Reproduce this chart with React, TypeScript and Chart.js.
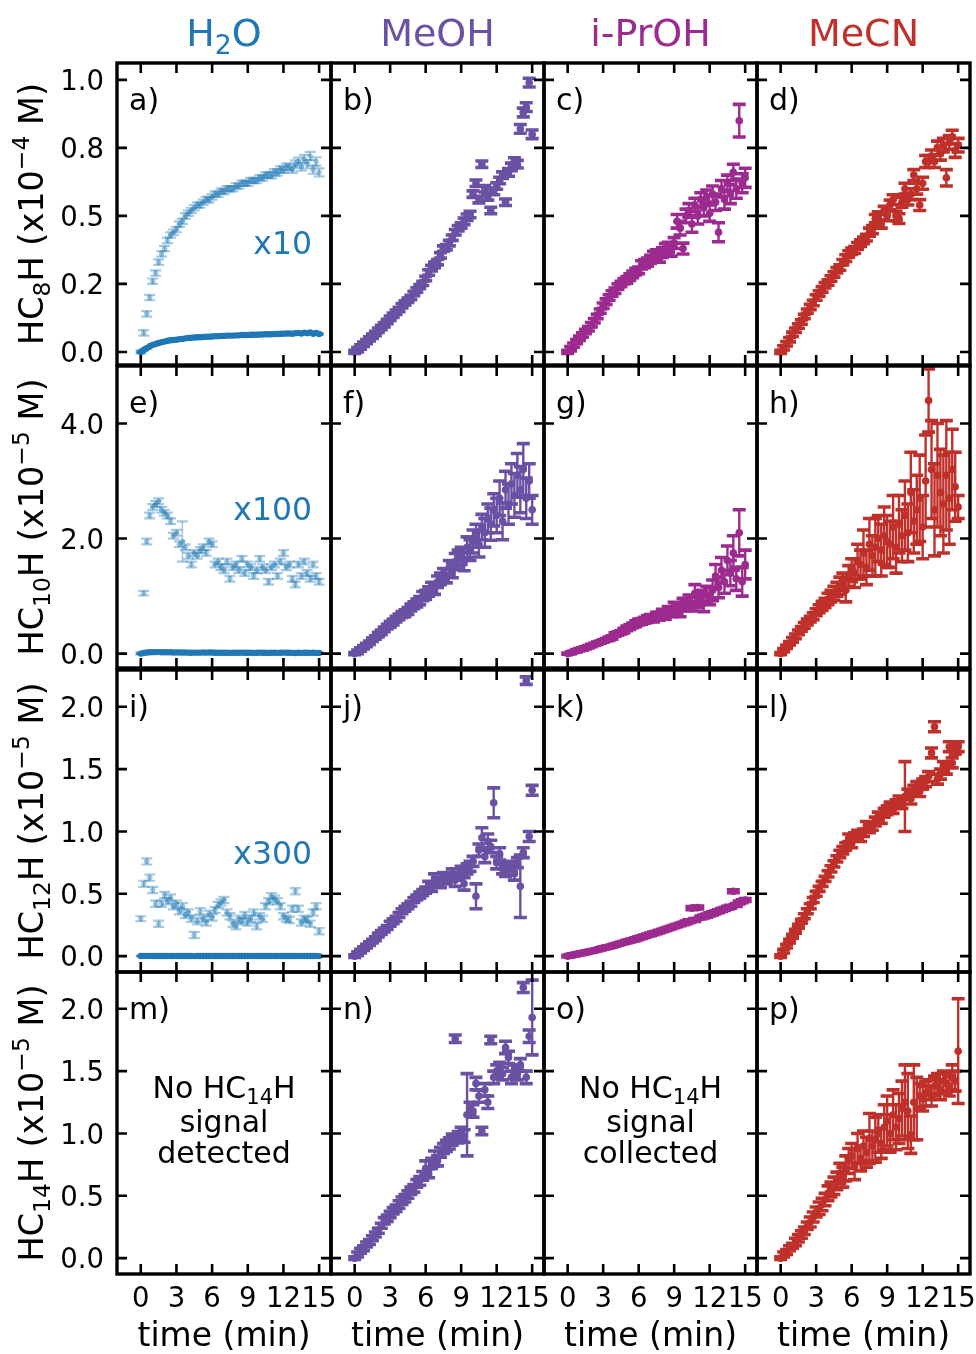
import { useEffect, useRef } from "react";
import { Chart, registerables } from "chart.js";

Chart.register(...registerables);

/* ---------------- data ---------------- */
const TIME = [
  0, 0.25, 0.5, 0.75, 1, 1.25, 1.5, 1.75, 2, 2.25,
  2.5, 2.75, 3, 3.25, 3.5, 3.75, 4, 4.25, 4.5, 4.75,
  5, 5.25, 5.5, 5.75, 6, 6.25, 6.5, 6.75, 7, 7.25,
  7.5, 7.75, 8, 8.25, 8.5, 8.75, 9, 9.25, 9.5, 9.75,
  10, 10.25, 10.5, 10.75, 11, 11.25, 11.5, 11.75, 12, 12.25,
  12.5, 12.75, 13, 13.25, 13.5, 13.75, 14, 14.25, 14.5, 14.75,
  15,
];

const SOLVENTS = ["H_{2}O", "MeOH", "i-PrOH", "MeCN"];
const Y_TITLES = [
  "HC_{8}H (x10^{−4} M)",
  "HC_{10}H (x10^{−5} M)",
  "HC_{12}H (x10^{−5} M)",
  "HC_{14}H (x10^{−5} M)",
];
const X_TITLE = "time (min)";
const X_TICKS = [0, 3, 6, 9, 12, 15];
const X_TICK_LABELS = ["0", "3", "6", "9", "12", "15"];
const Y_TICKS = [
  [0, 0.25, 0.5, 0.75, 1.0],
  [0, 2, 4],
  [0, 0.5, 1.0, 1.5, 2.0],
  [0, 0.5, 1.0, 1.5, 2.0],
];
const Y_TICK_LABELS = [
  ["0.0", "0.2", "0.5", "0.8", "1.0"],
  ["0.0", "2.0", "4.0"],
  ["0.0", "0.5", "1.0", "1.5", "2.0"],
  ["0.0", "0.5", "1.0", "1.5", "2.0"],
];
const PANEL_LETTERS = ["a)", "b)", "c)", "d)", "e)", "f)", "g)", "h)", "i)", "j)", "k)", "l)", "m)", "n)", "o)", "p)"];
const H2O_FACTORS = [10, 100, 300];
const H2O_NOTES = ["x10", "x100", "x300"];
const NO_SIGNAL_WATER = ["No HC_{14}H", "signal", "detected"];
const NO_SIGNAL_IPROH = ["No HC_{14}H", "signal", "collected"];

// H2O (values shown multiplied by the factor)
const H2O_HC8H_X10 = [
  0.00, 0.07, 0.14, 0.20, 0.26, 0.29, 0.33, 0.36, 0.38, 0.41,
  0.43, 0.44, 0.45, 0.47, 0.48, 0.50, 0.51, 0.52, 0.53, 0.54,
  0.54, 0.55, 0.56, 0.56, 0.57, 0.58, 0.58, 0.59, 0.59, 0.60,
  0.60, 0.60, 0.61, 0.61, 0.62, 0.62, 0.62, 0.63, 0.63, 0.63,
  0.64, 0.64, 0.65, 0.65, 0.65, 0.66, 0.66, 0.67, 0.67, 0.68,
  0.68, 0.67, 0.69, 0.70, 0.68, 0.71, 0.69, 0.72, 0.67, 0.70,
  0.66,
];
const H2O_HC8H_X10_ERR = [
  0.006, 0.01, 0.01, 0.01, 0.01, 0.01, 0.01, 0.01, 0.01, 0.01,
  0.01, 0.01, 0.01, 0.01, 0.01, 0.01, 0.01, 0.01, 0.01, 0.01,
  0.01, 0.01, 0.01, 0.01, 0.01, 0.01, 0.01, 0.01, 0.01, 0.01,
  0.01, 0.01, 0.01, 0.01, 0.01, 0.01, 0.01, 0.01, 0.01, 0.01,
  0.01, 0.01, 0.01, 0.01, 0.012, 0.012, 0.012, 0.012, 0.012, 0.012,
  0.012, 0.012, 0.014, 0.014, 0.014, 0.014, 0.015, 0.015, 0.015, 0.015,
  0.015,
];
const H2O_HC10H_X100 = [
  0.00, 1.05, 1.95, 2.40, 2.55, 2.60, 2.65, 2.50, 2.45, 2.40,
  2.30, 2.05, 2.10, 1.90, 1.95, 1.85, 1.70, 1.55, 1.75, 1.70,
  1.80, 1.85, 1.75, 1.95, 1.90, 1.55, 1.60, 1.50, 1.45, 1.60,
  1.30, 1.50, 1.55, 1.45, 1.65, 1.40, 1.55, 1.50, 1.35, 1.45,
  1.65, 1.50, 1.45, 1.25, 1.50, 1.55, 1.35, 1.60, 1.75, 1.50,
  1.55, 1.30, 1.20, 1.55, 1.35, 1.60, 1.40, 1.30, 1.55, 1.35,
  1.25,
];
const H2O_HC10H_X100_ERR = [
  0.02, 0.04, 0.05, 0.05, 0.05, 0.05, 0.05, 0.05, 0.05, 0.05,
  0.05, 0.05, 0.05, 0.05, 0.35, 0.05, 0.05, 0.05, 0.05, 0.05,
  0.05, 0.05, 0.05, 0.05, 0.05, 0.05, 0.05, 0.05, 0.05, 0.05,
  0.05, 0.05, 0.05, 0.05, 0.05, 0.05, 0.05, 0.05, 0.05, 0.05,
  0.05, 0.05, 0.05, 0.05, 0.05, 0.05, 0.05, 0.05, 0.05, 0.05,
  0.05, 0.05, 0.05, 0.05, 0.05, 0.05, 0.05, 0.05, 0.05, 0.05,
  0.05,
];
const H2O_HC12H_X300 = [
  0.30, 0.58, 0.76, 0.63, 0.53, 0.42, 0.26, 0.42, 0.49, 0.44,
  0.47, 0.40, 0.42, 0.36, 0.40, 0.33, 0.35, 0.30, 0.17, 0.28,
  0.36, 0.30, 0.27, 0.34, 0.31, 0.37, 0.41, 0.43, 0.45, 0.35,
  0.32, 0.26, 0.24, 0.30, 0.28, 0.33, 0.27, 0.30, 0.35, 0.24,
  0.32, 0.30, 0.40, 0.44, 0.48, 0.46, 0.44, 0.40, 0.32, 0.30,
  0.29, 0.38, 0.52, 0.38, 0.27, 0.30, 0.29, 0.26, 0.35, 0.40,
  0.20,
];
const H2O_HC12H_X300_ERR = [
  0.02, 0.025, 0.025, 0.025, 0.025, 0.025, 0.025, 0.025, 0.025, 0.025,
  0.025, 0.025, 0.025, 0.025, 0.025, 0.025, 0.025, 0.025, 0.025, 0.025,
  0.025, 0.025, 0.025, 0.025, 0.025, 0.025, 0.025, 0.025, 0.025, 0.025,
  0.025, 0.025, 0.025, 0.025, 0.025, 0.025, 0.025, 0.025, 0.025, 0.025,
  0.025, 0.025, 0.025, 0.025, 0.025, 0.025, 0.025, 0.025, 0.025, 0.025,
  0.025, 0.025, 0.025, 0.025, 0.025, 0.025, 0.025, 0.025, 0.025, 0.025,
  0.025,
];

// MeOH
const MEOH_HC8H = [
  0.000, 0.008, 0.018, 0.028, 0.038, 0.048, 0.058, 0.068, 0.080, 0.090,
  0.100, 0.112, 0.124, 0.135, 0.146, 0.156, 0.170, 0.180, 0.190, 0.200,
  0.215, 0.228, 0.240, 0.252, 0.270, 0.292, 0.308, 0.320, 0.330, 0.355,
  0.380, 0.385, 0.400, 0.420, 0.440, 0.455, 0.465, 0.480, 0.495, 0.505,
  0.580, 0.620, 0.560, 0.690, 0.600, 0.570, 0.520, 0.590, 0.610, 0.630,
  0.650, 0.550, 0.660, 0.680, 0.700, 0.690, 0.820, 0.880, 0.900, 0.990,
  0.800,
];
const MEOH_HC8H_ERR = [
  0.006, 0.008, 0.008, 0.008, 0.008, 0.008, 0.008, 0.008, 0.008, 0.008,
  0.008, 0.008, 0.008, 0.008, 0.008, 0.008, 0.008, 0.008, 0.008, 0.008,
  0.008, 0.008, 0.008, 0.008, 0.008, 0.010, 0.010, 0.010, 0.010, 0.010,
  0.010, 0.010, 0.010, 0.010, 0.010, 0.010, 0.010, 0.012, 0.012, 0.012,
  0.012, 0.012, 0.012, 0.012, 0.012, 0.012, 0.012, 0.012, 0.012, 0.012,
  0.012, 0.012, 0.014, 0.014, 0.014, 0.014, 0.016, 0.016, 0.016, 0.016,
  0.016,
];
const MEOH_HC10H = [
  0.00, 0.03, 0.07, 0.11, 0.15, 0.19, 0.24, 0.28, 0.33, 0.37,
  0.42, 0.47, 0.51, 0.55, 0.60, 0.64, 0.68, 0.70, 0.74, 0.80,
  0.84, 0.88, 0.92, 1.00, 1.02, 1.08, 1.15, 1.12, 1.25, 1.30,
  1.38, 1.35, 1.50, 1.45, 1.60, 1.65, 1.70, 1.60, 1.85, 1.80,
  1.95, 2.05, 1.90, 2.20, 2.10, 2.35, 2.25, 2.50, 2.40, 2.70,
  2.30, 2.85, 2.60, 2.95, 2.75, 3.10, 2.85, 3.20, 2.70, 3.00,
  2.50,
];
const MEOH_HC10H_ERR = [
  0.02, 0.03, 0.03, 0.03, 0.03, 0.03, 0.03, 0.03, 0.04, 0.04,
  0.04, 0.04, 0.05, 0.05, 0.05, 0.05, 0.05, 0.06, 0.06, 0.06,
  0.06, 0.07, 0.07, 0.08, 0.08, 0.08, 0.09, 0.09, 0.10, 0.10,
  0.10, 0.12, 0.12, 0.13, 0.14, 0.15, 0.15, 0.16, 0.18, 0.18,
  0.20, 0.20, 0.22, 0.22, 0.25, 0.25, 0.28, 0.28, 0.30, 0.30,
  0.32, 0.32, 0.35, 0.35, 0.38, 0.38, 0.40, 0.45, 0.35, 0.30,
  0.25,
];
const MEOH_HC12H = [
  0.00, 0.02, 0.04, 0.06, 0.08, 0.10, 0.12, 0.14, 0.17, 0.19,
  0.21, 0.23, 0.26, 0.28, 0.30, 0.33, 0.36, 0.38, 0.40, 0.42,
  0.45, 0.47, 0.49, 0.51, 0.53, 0.57, 0.55, 0.62, 0.60, 0.58,
  0.64, 0.62, 0.63, 0.66, 0.61, 0.64, 0.68, 0.58, 0.70, 0.72,
  0.76, 0.48, 0.85, 0.95, 0.80, 0.92, 0.88, 1.23, 0.75, 0.82,
  0.70, 0.68, 0.70, 0.72, 0.66, 0.75, 0.56, 0.83, 2.21, 0.96,
  1.33,
];
const MEOH_HC12H_ERR = [
  0.01, 0.015, 0.015, 0.015, 0.015, 0.015, 0.015, 0.015, 0.015, 0.015,
  0.015, 0.015, 0.02, 0.02, 0.02, 0.02, 0.02, 0.02, 0.02, 0.02,
  0.02, 0.02, 0.025, 0.025, 0.025, 0.03, 0.03, 0.04, 0.03, 0.03,
  0.03, 0.04, 0.03, 0.04, 0.05, 0.03, 0.04, 0.05, 0.04, 0.04,
  0.04, 0.10, 0.05, 0.08, 0.05, 0.06, 0.05, 0.12, 0.05, 0.05,
  0.04, 0.04, 0.05, 0.04, 0.05, 0.04, 0.25, 0.04, 0.03, 0.04,
  0.04,
];
const MEOH_HC14H = [
  0.00, 0.03, 0.06, 0.08, 0.11, 0.13, 0.16, 0.19, 0.22, 0.26,
  0.30, 0.32, 0.35, 0.38, 0.40, 0.43, 0.46, 0.48, 0.51, 0.54,
  0.56, 0.60, 0.62, 0.66, 0.72, 0.68, 0.76, 0.80, 0.78, 0.85,
  0.88, 0.90, 0.92, 0.95, 1.76, 0.97, 1.00, 0.98, 1.15, 1.20,
  1.18, 1.40, 1.30, 1.02, 1.35, 1.25, 1.75, 1.45, 1.50, 1.52,
  1.48, 1.69, 1.61, 1.45, 1.50, 1.48, 1.55, 2.17, 1.45, 1.78,
  1.93,
];
const MEOH_HC14H_ERR = [
  0.01, 0.02, 0.02, 0.02, 0.02, 0.02, 0.02, 0.02, 0.02, 0.02,
  0.025, 0.025, 0.025, 0.025, 0.025, 0.03, 0.03, 0.03, 0.03, 0.03,
  0.03, 0.03, 0.035, 0.035, 0.06, 0.035, 0.04, 0.06, 0.04, 0.04,
  0.04, 0.045, 0.045, 0.045, 0.03, 0.045, 0.05, 0.05, 0.33, 0.05,
  0.05, 0.05, 0.05, 0.03, 0.05, 0.05, 0.03, 0.05, 0.05, 0.05,
  0.05, 0.05, 0.05, 0.05, 0.05, 0.05, 0.05, 0.04, 0.05, 0.05,
  0.30,
];

// i-PrOH
const IPROH_HC8H = [
  0.000, 0.012, 0.025, 0.038, 0.050, 0.062, 0.075, 0.085, 0.100, 0.115,
  0.130, 0.150, 0.170, 0.185, 0.200, 0.215, 0.225, 0.240, 0.250, 0.260,
  0.265, 0.275, 0.285, 0.295, 0.300, 0.320, 0.325, 0.330, 0.340, 0.355,
  0.360, 0.345, 0.365, 0.380, 0.385, 0.370, 0.400, 0.480, 0.455, 0.380,
  0.500, 0.520, 0.470, 0.540, 0.500, 0.560, 0.530, 0.570, 0.510, 0.580,
  0.550, 0.440, 0.600, 0.560, 0.620, 0.580, 0.660, 0.600, 0.850, 0.620,
  0.640,
];
const IPROH_HC8H_ERR = [
  0.006, 0.008, 0.008, 0.008, 0.008, 0.008, 0.008, 0.008, 0.008, 0.008,
  0.008, 0.008, 0.010, 0.010, 0.010, 0.010, 0.010, 0.010, 0.010, 0.010,
  0.012, 0.012, 0.012, 0.012, 0.012, 0.015, 0.015, 0.015, 0.015, 0.015,
  0.015, 0.015, 0.018, 0.018, 0.018, 0.018, 0.020, 0.025, 0.025, 0.020,
  0.025, 0.025, 0.030, 0.025, 0.030, 0.025, 0.030, 0.025, 0.030, 0.030,
  0.030, 0.035, 0.030, 0.035, 0.030, 0.035, 0.030, 0.035, 0.060, 0.035,
  0.035,
];
const IPROH_HC10H = [
  0.00, 0.01, 0.03, 0.05, 0.07, 0.08, 0.10, 0.12, 0.14, 0.16,
  0.18, 0.20, 0.22, 0.24, 0.26, 0.28, 0.33, 0.35, 0.37, 0.40,
  0.44, 0.46, 0.49, 0.52, 0.55, 0.56, 0.58, 0.60, 0.62, 0.61,
  0.66, 0.65, 0.70, 0.68, 0.74, 0.72, 0.80, 0.78, 0.74, 0.86,
  0.84, 0.90, 0.86, 1.05, 0.92, 0.98, 0.88, 1.02, 1.00, 1.10,
  1.35, 1.15, 1.45, 1.25, 1.62, 1.40, 1.75, 1.30, 2.10, 1.25,
  1.55,
];
const IPROH_HC10H_ERR = [
  0.01, 0.01, 0.01, 0.02, 0.02, 0.02, 0.02, 0.02, 0.02, 0.02,
  0.02, 0.02, 0.02, 0.02, 0.03, 0.03, 0.03, 0.03, 0.03, 0.04,
  0.04, 0.04, 0.04, 0.05, 0.05, 0.05, 0.05, 0.06, 0.06, 0.06,
  0.06, 0.07, 0.07, 0.08, 0.08, 0.08, 0.09, 0.09, 0.10, 0.10,
  0.10, 0.12, 0.12, 0.15, 0.12, 0.12, 0.15, 0.15, 0.15, 0.18,
  0.20, 0.18, 0.22, 0.20, 0.25, 0.22, 0.30, 0.20, 0.40, 0.25,
  0.25,
];
const IPROH_HC12H = [
  0.000, 0.005, 0.010, 0.015, 0.020, 0.025, 0.030, 0.035, 0.040, 0.046,
  0.052, 0.058, 0.065, 0.070, 0.076, 0.082, 0.090, 0.096, 0.103, 0.110,
  0.117, 0.124, 0.130, 0.137, 0.145, 0.152, 0.160, 0.168, 0.175, 0.183,
  0.190, 0.198, 0.206, 0.214, 0.222, 0.230, 0.238, 0.246, 0.254, 0.262,
  0.270, 0.280, 0.385, 0.290, 0.390, 0.310, 0.318, 0.325, 0.335, 0.343,
  0.352, 0.360, 0.370, 0.378, 0.388, 0.395, 0.520, 0.410, 0.430, 0.440,
  0.450,
];
const IPROH_HC12H_ERR = [
  0.006, 0.008, 0.008, 0.008, 0.008, 0.008, 0.008, 0.008, 0.008, 0.008,
  0.008, 0.008, 0.008, 0.008, 0.008, 0.008, 0.008, 0.008, 0.008, 0.008,
  0.010, 0.010, 0.010, 0.010, 0.010, 0.010, 0.010, 0.010, 0.010, 0.010,
  0.010, 0.010, 0.010, 0.010, 0.010, 0.010, 0.010, 0.010, 0.010, 0.010,
  0.012, 0.012, 0.012, 0.012, 0.012, 0.012, 0.012, 0.012, 0.012, 0.012,
  0.012, 0.012, 0.012, 0.012, 0.012, 0.012, 0.012, 0.012, 0.012, 0.012,
  0.012,
];

// MeCN
const MECN_HC8H = [
  0.000, 0.015, 0.030, 0.045, 0.065, 0.080, 0.095, 0.110, 0.130, 0.150,
  0.165, 0.180, 0.200, 0.215, 0.230, 0.245, 0.255, 0.270, 0.285, 0.300,
  0.310, 0.330, 0.345, 0.360, 0.370, 0.375, 0.390, 0.400, 0.410, 0.420,
  0.440, 0.450, 0.490, 0.500, 0.470, 0.520, 0.500, 0.540, 0.560, 0.500,
  0.490, 0.550, 0.600, 0.560, 0.580, 0.650, 0.600, 0.540, 0.620, 0.700,
  0.700, 0.720, 0.700, 0.750, 0.730, 0.760, 0.640, 0.770, 0.790, 0.740,
  0.760,
];
const MECN_HC8H_ERR = [
  0.006, 0.008, 0.008, 0.008, 0.008, 0.008, 0.008, 0.008, 0.008, 0.008,
  0.010, 0.010, 0.010, 0.010, 0.010, 0.010, 0.010, 0.010, 0.010, 0.010,
  0.010, 0.010, 0.012, 0.012, 0.012, 0.012, 0.012, 0.012, 0.012, 0.012,
  0.015, 0.015, 0.015, 0.015, 0.015, 0.015, 0.018, 0.018, 0.018, 0.018,
  0.018, 0.018, 0.020, 0.020, 0.020, 0.020, 0.020, 0.020, 0.022, 0.022,
  0.022, 0.022, 0.022, 0.025, 0.025, 0.025, 0.030, 0.025, 0.025, 0.025,
  0.025,
];
const MECN_HC10H = [
  0.00, 0.06, 0.12, 0.18, 0.24, 0.30, 0.37, 0.43, 0.49, 0.55,
  0.60, 0.65, 0.72, 0.78, 0.83, 0.88, 0.95, 1.00, 1.05, 1.12,
  1.18, 1.25, 1.10, 1.35, 1.45, 1.40, 1.60, 1.55, 1.75, 1.50,
  1.90, 1.70, 1.85, 2.00, 1.80, 2.05, 1.95, 1.90, 2.20, 1.85,
  2.25, 2.05, 2.40, 2.10, 2.80, 2.30, 2.50, 2.70, 2.20, 3.00,
  4.40, 3.20, 2.50, 3.10, 2.80, 2.60, 3.10, 2.70, 3.20, 2.90,
  2.55,
];
const MECN_HC10H_ERR = [
  0.02, 0.03, 0.03, 0.03, 0.04, 0.04, 0.04, 0.04, 0.05, 0.05,
  0.05, 0.06, 0.06, 0.07, 0.08, 0.08, 0.10, 0.10, 0.12, 0.12,
  0.15, 0.15, 0.20, 0.18, 0.20, 0.25, 0.30, 0.25, 0.40, 0.30,
  0.45, 0.35, 0.50, 0.40, 0.45, 0.50, 0.45, 0.40, 0.55, 0.45,
  0.50, 0.45, 0.60, 0.50, 0.70, 0.55, 0.60, 0.75, 0.55, 0.80,
  0.55, 0.85, 0.80, 0.90, 0.75, 0.85, 0.95, 0.80, 0.70, 0.60,
  0.20,
];
const MECN_HC12H = [
  0.00, 0.04, 0.08, 0.12, 0.16, 0.20, 0.24, 0.28, 0.32, 0.36,
  0.40, 0.45, 0.50, 0.54, 0.58, 0.62, 0.66, 0.70, 0.74, 0.78,
  0.82, 0.85, 0.88, 0.95, 0.90, 0.96, 0.98, 0.95, 0.99, 1.05,
  1.02, 1.04, 1.08, 1.12, 1.10, 1.15, 1.17, 1.20, 1.18, 1.22,
  1.25, 1.22, 1.28, 1.30, 1.26, 1.33, 1.36, 1.32, 1.38, 1.40,
  1.44, 1.63, 1.84, 1.42, 1.46, 1.52, 1.50, 1.68, 1.55, 1.66,
  1.68,
];
const MECN_HC12H_ERR = [
  0.01, 0.015, 0.015, 0.015, 0.015, 0.015, 0.015, 0.015, 0.02, 0.02,
  0.02, 0.02, 0.02, 0.02, 0.02, 0.02, 0.025, 0.025, 0.025, 0.025,
  0.03, 0.03, 0.03, 0.03, 0.03, 0.03, 0.03, 0.03, 0.03, 0.03,
  0.03, 0.03, 0.035, 0.035, 0.035, 0.035, 0.035, 0.035, 0.035, 0.035,
  0.035, 0.035, 0.28, 0.04, 0.04, 0.04, 0.04, 0.04, 0.04, 0.04,
  0.04, 0.04, 0.04, 0.04, 0.04, 0.04, 0.04, 0.04, 0.04, 0.04,
  0.04,
];
const MECN_HC14H = [
  0.00, 0.03, 0.05, 0.08, 0.10, 0.13, 0.16, 0.19, 0.22, 0.26,
  0.29, 0.33, 0.37, 0.40, 0.43, 0.47, 0.52, 0.55, 0.58, 0.62,
  0.68, 0.65, 0.72, 0.78, 0.82, 0.75, 0.88, 0.80, 0.90, 0.85,
  0.96, 0.90, 0.95, 1.00, 0.92, 1.05, 1.10, 1.00, 1.15, 1.05,
  1.12, 1.20, 1.25, 1.18, 0.99, 1.25, 1.20, 1.30, 1.28, 1.32,
  1.35, 1.30, 1.38, 1.40, 1.35, 1.42, 1.40, 1.38, 1.45, 1.42,
  1.66,
];
const MECN_HC14H_ERR = [
  0.01, 0.02, 0.02, 0.02, 0.02, 0.03, 0.03, 0.03, 0.03, 0.03,
  0.04, 0.04, 0.04, 0.05, 0.05, 0.05, 0.06, 0.06, 0.07, 0.07,
  0.08, 0.08, 0.10, 0.10, 0.10, 0.12, 0.12, 0.10, 0.12, 0.12,
  0.20, 0.12, 0.18, 0.15, 0.12, 0.18, 0.20, 0.15, 0.20, 0.18,
  0.20, 0.22, 0.30, 0.30, 0.15, 0.30, 0.25, 0.10, 0.10, 0.10,
  0.08, 0.08, 0.08, 0.08, 0.08, 0.08, 0.08, 0.08, 0.10, 0.08,
  0.42,
];

/* ---------------- layout & style ---------------- */
const W = 976;
const H = 1354;
const COL_L = [117, 331, 544, 757];
const COL_R = [331, 544, 757, 970];
const ROW_T = [63, 366, 670, 972];
const ROW_B = [365, 668, 972, 1274];
const X_MIN = -2;
const X_MAX = 16;
const Y_MIN = [-0.048, -0.25, -0.127, -0.127];
const Y_MAX = [1.062, 5.0, 2.295, 2.295];
const SOLVENT_COLORS = ["#1f77b4", "#6a51a3", "#9c2a8f", "#c0302a"];
const H2O_LIGHT = "rgba(31,119,180,0.4)";
const FONT = '"DejaVu Sans", sans-serif';

type Style = { radius: number; errW: number; capHalf: number; capW: number };
const STYLE_SOLID: Style = { radius: 3.8, errW: 2.4, capHalf: 6.5, capW: 3.6 };
const STYLE_H2O: Style = { radius: 3.2, errW: 1.8, capHalf: 4.5, capW: 2.6 };
const STYLE_LIGHT: Style = { radius: 2.8, errW: 1.5, capHalf: 5.5, capW: 2.2 };

type SeriesSpec = { values: number[]; errors: number[]; div: number; color: string; style: Style };
type PanelSpec = { id: number; row: number; col: number; series: SeriesSpec[]; note?: string; noSignal?: string[] };

const H2O_GRID = [
  [H2O_HC8H_X10, H2O_HC8H_X10_ERR],
  [H2O_HC10H_X100, H2O_HC10H_X100_ERR],
  [H2O_HC12H_X300, H2O_HC12H_X300_ERR],
];
const DATA_GRID: (number[][] | null)[][] = [
  [null, [MEOH_HC8H, MEOH_HC8H_ERR], [IPROH_HC8H, IPROH_HC8H_ERR], [MECN_HC8H, MECN_HC8H_ERR]],
  [null, [MEOH_HC10H, MEOH_HC10H_ERR], [IPROH_HC10H, IPROH_HC10H_ERR], [MECN_HC10H, MECN_HC10H_ERR]],
  [null, [MEOH_HC12H, MEOH_HC12H_ERR], [IPROH_HC12H, IPROH_HC12H_ERR], [MECN_HC12H, MECN_HC12H_ERR]],
  [null, [MEOH_HC14H, MEOH_HC14H_ERR], null, [MECN_HC14H, MECN_HC14H_ERR]],
];

function buildPanels(): PanelSpec[] {
  const out: PanelSpec[] = [];
  for (let r = 0; r < 4; r++) {
    for (let c = 0; c < 4; c++) {
      const p: PanelSpec = { id: r * 4 + c, row: r, col: c, series: [] };
      if (c === 0 && r < 3) {
        const [vals, errs] = H2O_GRID[r];
        p.series.push({ values: vals, errors: errs, div: 1, color: H2O_LIGHT, style: STYLE_LIGHT });
        p.series.push({ values: vals, errors: errs, div: H2O_FACTORS[r], color: SOLVENT_COLORS[0], style: STYLE_H2O });
        p.note = H2O_NOTES[r];
      } else if (r === 3 && c === 0) {
        p.noSignal = NO_SIGNAL_WATER;
      } else if (r === 3 && c === 2) {
        p.noSignal = NO_SIGNAL_IPROH;
      } else {
        const d = DATA_GRID[r][c]!;
        p.series.push({ values: d[0], errors: d[1], div: 1, color: SOLVENT_COLORS[c], style: STYLE_SOLID });
      }
      out.push(p);
    }
  }
  return out;
}
const PANELS = buildPanels();

/* ---------------- text helpers ---------------- */
function parseRich(s: string): [string, number][] {
  const out: [string, number][] = [];
  const re = /_\{([^}]*)\}|\^\{([^}]*)\}|([^_^]+)/g;
  let m: RegExpExecArray | null;
  while ((m = re.exec(s))) {
    if (m[1] !== undefined) out.push([m[1], 1]);
    else if (m[2] !== undefined) out.push([m[2], 2]);
    else out.push([m[3], 0]);
  }
  return out;
}

function drawRich(ctx: CanvasRenderingContext2D, s: string, x: number, y: number, size: number, align: string, color: string) {
  const parts = parseRich(s);
  const fonts = parts.map(([, k]) => `${k ? size * 0.7 : size}px ${FONT}`);
  const widths = parts.map(([t], i) => {
    ctx.font = fonts[i];
    return ctx.measureText(t).width;
  });
  const total = widths.reduce((a, b) => a + b, 0);
  let cx = align === "center" ? x - total / 2 : align === "right" ? x - total : x;
  ctx.fillStyle = color;
  ctx.textAlign = "left";
  ctx.textBaseline = "alphabetic";
  parts.forEach(([t, k], i) => {
    ctx.font = fonts[i];
    const dy = k === 1 ? size * 0.2 : k === 2 ? -size * 0.42 : 0;
    ctx.fillText(t, cx, y + dy);
    cx += widths[i];
  });
}

/* ---------------- chart config ---------------- */
function buildConfig(p: PanelSpec): any {
  const L = COL_L[p.col];
  const R = COL_R[p.col];
  const T = ROW_T[p.row];
  const B = ROW_B[p.row];

  const panelPlugin = {
    id: "panel" + p.id,
    beforeDatasetsDraw(chart: any) {
      const { ctx, chartArea: a, scales } = chart;
      const xs = scales.x;
      const ys = scales.y;
      ctx.save();
      ctx.beginPath();
      ctx.rect(a.left, a.top, a.right - a.left, a.bottom - a.top);
      ctx.clip();
      chart.data.datasets.forEach((ds: any, di: number) => {
        const st: Style = p.series[di].style;
        ctx.strokeStyle = ds.borderColor;
        ds.data.forEach((pt: any, i: number) => {
          const e = ds.errors[i];
          const px = xs.getPixelForValue(pt.x);
          const y1 = ys.getPixelForValue(pt.y - e);
          const y2 = ys.getPixelForValue(pt.y + e);
          ctx.lineWidth = st.errW;
          ctx.beginPath();
          ctx.moveTo(px, y1);
          ctx.lineTo(px, y2);
          ctx.stroke();
          ctx.lineWidth = st.capW;
          ctx.beginPath();
          ctx.moveTo(px - st.capHalf, y1);
          ctx.lineTo(px + st.capHalf, y1);
          ctx.moveTo(px - st.capHalf, y2);
          ctx.lineTo(px + st.capHalf, y2);
          ctx.stroke();
        });
      });
      ctx.restore();
    },
    afterDraw(chart: any) {
      const { ctx, chartArea: a, scales } = chart;
      const xs = scales.x;
      const ys = scales.y;
      ctx.save();
      // ticks (inward, all four sides)
      ctx.strokeStyle = "#000";
      ctx.lineWidth = 2.6;
      const TL = 10;
      ctx.beginPath();
      X_TICKS.forEach((v) => {
        const px = xs.getPixelForValue(v);
        ctx.moveTo(px, a.bottom);
        ctx.lineTo(px, a.bottom - TL);
        ctx.moveTo(px, a.top);
        ctx.lineTo(px, a.top + TL);
      });
      Y_TICKS[p.row].forEach((v) => {
        const py = ys.getPixelForValue(v);
        ctx.moveTo(a.left, py);
        ctx.lineTo(a.left + TL, py);
        ctx.moveTo(a.right, py);
        ctx.lineTo(a.right - TL, py);
      });
      ctx.stroke();
      // frame
      ctx.lineWidth = 3.4;
      ctx.strokeRect(a.left, a.top, a.right - a.left, a.bottom - a.top);

      // y tick labels + title (left column)
      if (p.col === 0) {
        const ts = 27.5;
        ctx.fillStyle = "#000";
        ctx.font = `${ts}px ${FONT}`;
        ctx.textAlign = "right";
        ctx.textBaseline = "alphabetic";
        Y_TICKS[p.row].forEach((v, i) => {
          const py = ys.getPixelForValue(v);
          ctx.fillText(Y_TICK_LABELS[p.row][i], a.left - 13, py + ts * 0.365);
        });
        ctx.save();
        ctx.translate(43, (a.top + a.bottom) / 2);
        ctx.rotate(-Math.PI / 2);
        drawRich(ctx, Y_TITLES[p.row], 0, 0, 33.5, "center", "#000");
        ctx.restore();
      }
      // x tick labels + title (bottom row)
      if (p.row === 3) {
        ctx.fillStyle = "#000";
        ctx.font = `27.5px ${FONT}`;
        ctx.textAlign = "center";
        ctx.textBaseline = "alphabetic";
        X_TICKS.forEach((v, i) => {
          const px = xs.getPixelForValue(v);
          ctx.fillText(X_TICK_LABELS[i], px, a.bottom + 33);
        });
        drawRich(ctx, X_TITLE, (a.left + a.right) / 2, 1346, 33, "center", "#000");
      }
      // column titles (top row)
      if (p.row === 0) {
        drawRich(ctx, SOLVENTS[p.col], (a.left + a.right) / 2, 46, 38, "center", SOLVENT_COLORS[p.col]);
      }
      // panel letter
      drawRich(ctx, PANEL_LETTERS[p.id], a.left + 12, a.top + 47, 30, "left", "#000");
      // multiplier note
      if (p.note) {
        const offs = [191, 154, 194];
        drawRich(ctx, p.note, a.right - 19, a.top + offs[p.row], 31.5, "right", SOLVENT_COLORS[0]);
      }
      if (p.noSignal) {
        const offs = [126, 160, 191];
        p.noSignal.forEach((line, i) => {
          drawRich(ctx, line, (a.left + a.right) / 2, a.top + offs[i], 30, "center", "#000");
        });
      }
      ctx.restore();
    },
  };

  return {
    type: "scatter",
    data: {
      datasets: p.series.map((s) => ({
        data: TIME.map((t, i) => ({ x: t, y: s.values[i] / s.div })),
        errors: s.errors.map((e) => e / s.div),
        backgroundColor: s.color,
        borderColor: s.color,
        pointRadius: s.style.radius,
        pointHoverRadius: s.style.radius,
        pointBorderWidth: 0,
        clip: 0,
      })),
    },
    options: {
      animation: false,
      responsive: false,
      maintainAspectRatio: false,
      events: [],
      layout: { padding: { left: L, top: T, right: W - R, bottom: H - B } },
      plugins: { legend: { display: false }, tooltip: { enabled: false }, title: { display: false } },
      scales: {
        x: { type: "linear", min: X_MIN, max: X_MAX, display: false },
        y: { type: "linear", min: Y_MIN[p.row], max: Y_MAX[p.row], display: false },
      },
    },
    plugins: [panelPlugin],
  };
}

function PanelChart({ spec }: { spec: PanelSpec }) {
  const ref = useRef<HTMLCanvasElement | null>(null);
  useEffect(() => {
    if (!ref.current) return;
    const chart = new Chart(ref.current, buildConfig(spec));
    return () => chart.destroy();
  }, [spec]);
  return (
    <canvas
      ref={ref}
      width={W}
      height={H}
      style={{ position: "absolute", left: 0, top: 0, width: W, height: H }}
    />
  );
}

export default function App() {
  return (
    <div style={{ position: "absolute", left: 0, top: 0, width: W, height: H, background: "#fff", overflow: "hidden" }}>
      {PANELS.map((p) => (
        <PanelChart key={p.id} spec={p} />
      ))}
    </div>
  );
}
